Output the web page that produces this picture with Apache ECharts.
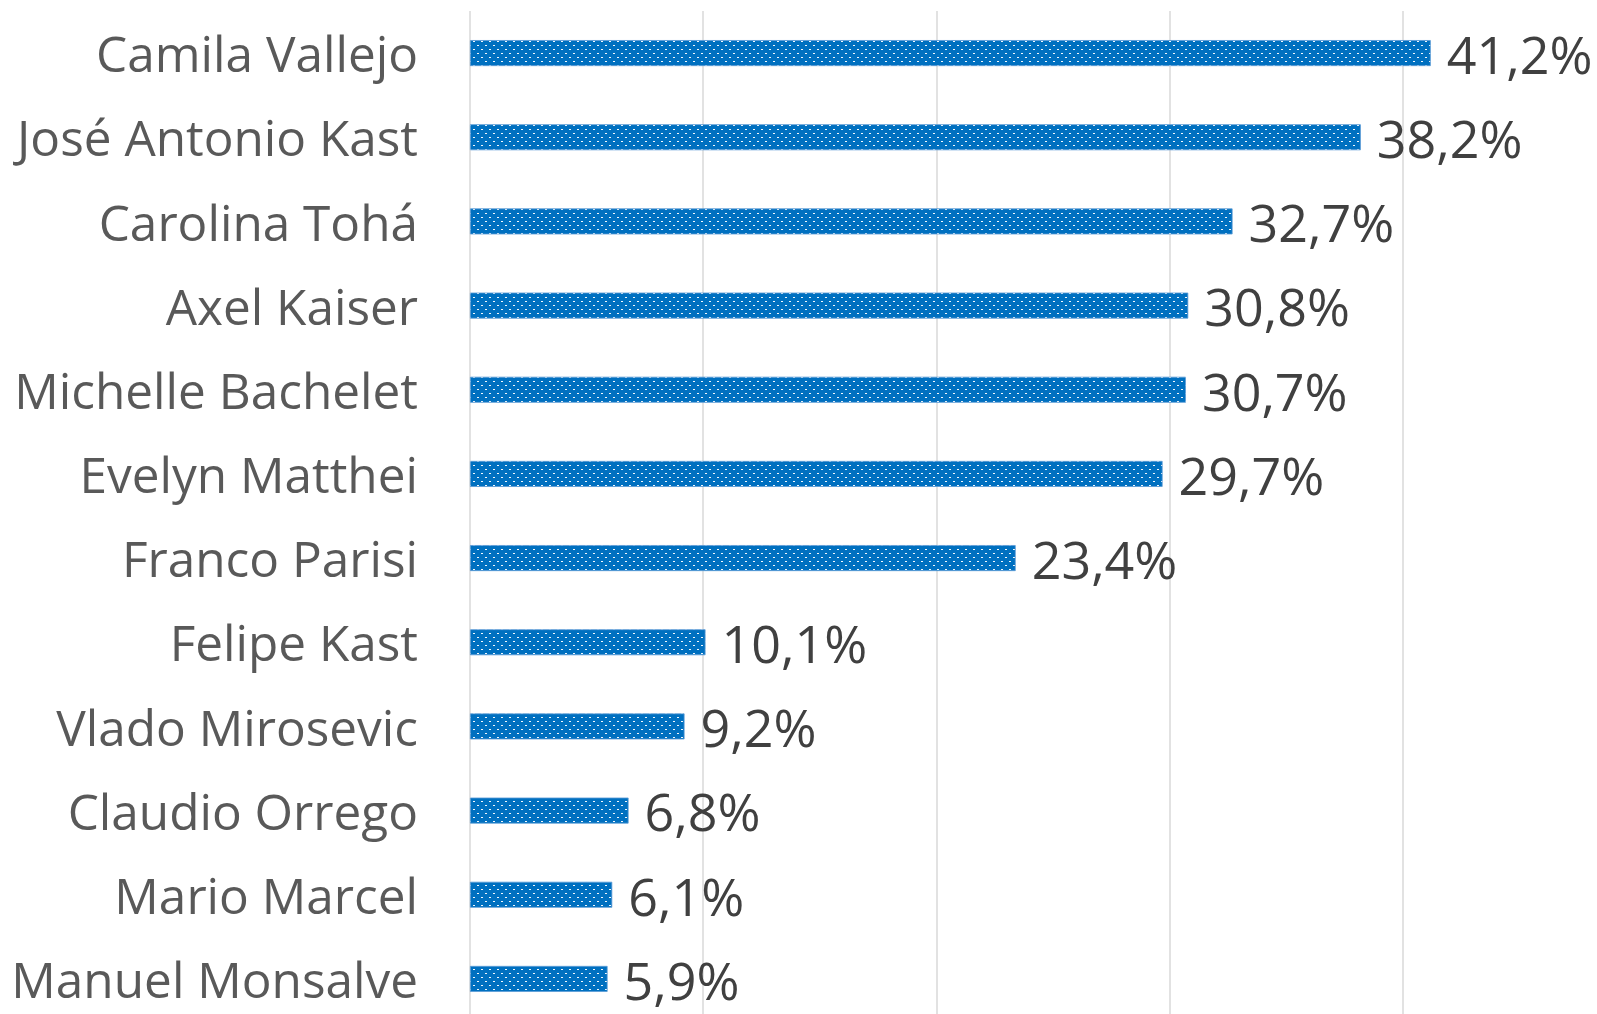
<!DOCTYPE html>
<html>
<head>
<meta charset="utf-8">
<script src="https://cdn.jsdelivr.net/npm/echarts@6/dist/echarts.min.js"></script>
<style>
html,body{margin:0;padding:0;background:#fff;}
#chart{width:1597px;height:1014px;}
</style>
</head>
<body>
<div id="chart"></div>
<script>
const categories = ["Camila Vallejo","José Antonio Kast","Carolina Tohá","Axel Kaiser","Michelle Bachelet","Evelyn Matthei","Franco Parisi","Felipe Kast","Vlado Mirosevic","Claudio Orrego","Mario Marcel","Manuel Monsalve"];
const values = [41.2,38.2,32.7,30.8,30.7,29.7,23.4,10.1,9.2,6.8,6.1,5.9];
const xTicks = [0,10,20,30,40,50];

const pc = document.createElement('canvas');
pc.width = 8; pc.height = 8;
const ctx = pc.getContext('2d');
ctx.fillStyle = '#0070C0';
ctx.fillRect(0,0,8,8);
ctx.fillStyle = 'rgba(255,255,255,0.95)';
ctx.fillRect(1,1,2,1);
ctx.fillRect(5,5,2,1);

const chart = echarts.init(document.getElementById('chart'), null, {renderer:'canvas'});
chart.setOption({
  animation:false,
  grid:{left:470, top:11, width:1166, height:1010, containLabel:false, outerBoundsMode:'none'},
  xAxis:{type:'value', min:xTicks[0], max:xTicks[xTicks.length-1], interval:10,
    axisLabel:{show:false}, axisLine:{show:false}, axisTick:{show:false},
    splitLine:{show:true, lineStyle:{color:'#D9D9D9', width:1.5}}},
  yAxis:{type:'category', data:categories, inverse:true,
    axisLine:{show:false}, axisTick:{show:false},
    axisLabel:{margin:52, color:'#595959', fontSize:49.5, fontFamily:'Open Sans',
      formatter:v=>'{a|'+v+'}',
      rich:{a:{fontSize:49.5, fontFamily:'Open Sans', color:'#595959', padding:[10,0,0,0]}}}},
  series:[{type:'bar', data:values, barWidth:26,
    itemStyle:{color:{image:pc, repeat:'repeat'}, borderColor:'#5B9BD5', borderWidth:0.8},
    label:{show:true, position:'right', distance:16, color:'#404040', fontSize:52, fontFamily:'Open Sans',
      offset:[0,6],
      formatter:p=>p.value.toFixed(1).replace('.',',')+'%'}}]
});
</script>
</body>
</html>
